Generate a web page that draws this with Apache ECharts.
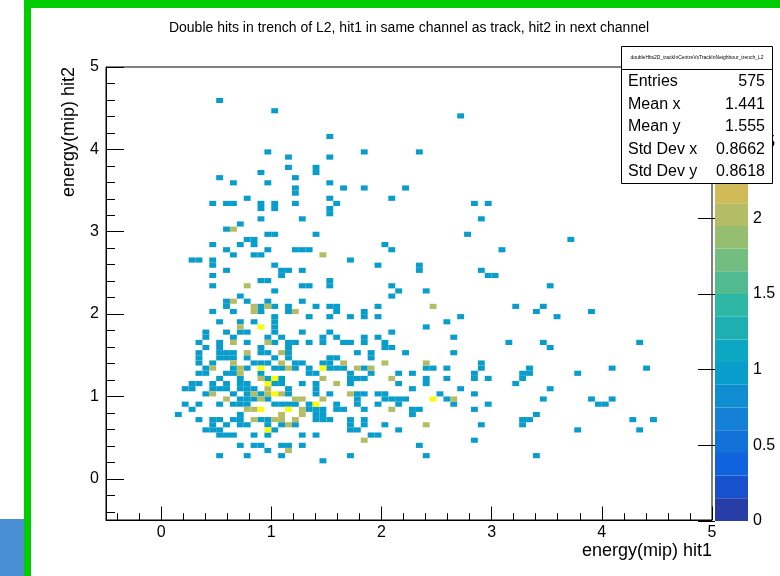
<!DOCTYPE html>
<html>
<head>
<meta charset="utf-8">
<script src="https://cdn.jsdelivr.net/npm/echarts@6/dist/echarts.min.js"></script>
<style>
html, body { margin: 0; padding: 0; background: #fff; }
#chart { width: 780px; height: 576px; }
</style>
</head>
<body>
<div id="chart"></div>
<script>
// TH2 binning: 1/16 mip per bin, both axes start at -0.5
const binWidth = 1 / 16
const binLow = -0.5

// [hit2 bin, [hit1 bins]] for cells with 1, 2 and 3 entries
const ones = [
  [81, [16]], [79, [24]], [78, [51]], [74, [32]],
  [71, [23, 37, 45]], [70, [26, 32]], [68, [26, 30]], [67, [22, 30]],
  [66, [16, 27]], [65, [18, 23, 32]], [64, [27, 34, 37, 43]], [63, [27]],
  [62, [20, 32, 41]], [61, [15, 17, 18, 22, 24, 27, 33, 53, 55]],
  [60, [22, 24, 32]], [59, [32]], [58, [22, 28, 54]], [57, [19]], [56, [17]],
  [55, [23, 24, 30, 52]], [54, [20, 21, 67]], [53, [15, 19, 21, 40]],
  [52, [17, 23, 27, 28, 29, 41, 57]], [51, [18, 21, 22]], [50, [12, 13, 15, 35]],
  [49, [15, 24, 39, 45]], [48, [17, 25, 26, 28, 45, 54]], [47, [15, 25, 55, 56]],
  [46, [22, 23, 32]], [45, [15, 28, 29, 32, 41, 64]], [44, [24, 42, 46]],
  [43, [19, 41]], [42, [17, 20, 23, 28]],
  [41, [17, 22, 24, 26, 30, 32, 33, 39, 59, 63]],
  [40, [15, 18, 22, 26, 33, 37, 62, 70]],
  [39, [24, 29, 32, 35, 37, 39, 51, 65]], [38, [16, 19, 21, 24, 49]], [37, [24, 46]],
  [36, [14, 17, 19, 20, 24, 28, 32, 41]],
  [35, [14, 18, 23, 25, 31, 33, 37, 39, 50]],
  [34, [13, 16, 20, 24, 26, 27, 29, 31, 34, 35, 37, 40, 58, 63, 77]],
  [33, [14, 16, 22, 26, 40, 41, 64]],
  [32, [13, 16, 17, 18, 22, 23, 26, 36, 38, 43, 50]],
  [31, [13, 16, 17, 18, 20, 24, 26, 32, 33, 38]],
  [30, [13, 15, 21, 22, 23, 27, 28, 31, 32, 54]],
  [29, [14, 18, 20, 24, 25, 27, 29, 32, 33, 34, 37, 46, 47, 49, 54, 61, 73, 78]],
  [28, [13, 14, 17, 18, 22, 29, 30, 35, 38, 42, 44, 53, 60, 61, 68]],
  [27, [16, 19, 23, 25, 35, 36, 37, 46, 49, 53, 55, 60]],
  [26, [12, 13, 15, 17, 19, 20, 24, 25, 28, 30, 35, 42, 46, 59]],
  [25, [11, 12, 15, 16, 17, 19, 20, 21, 26, 30, 44, 51, 64]],
  [24, [14, 18, 20, 22, 26, 30, 32, 36, 37, 39, 40, 48, 53]],
  [23, [19, 20, 21, 23, 36, 40, 41, 42, 43, 49, 63, 70, 73]],
  [22, [11, 13, 16, 18, 19, 20, 24, 25, 26, 27, 29, 33, 36, 39, 42, 50, 55, 71, 72]],
  [21, [12, 29, 30, 31, 33, 34, 37, 44, 45, 53]],
  [20, [10, 19, 30, 31, 44, 62]],
  [19, [13, 15, 16, 18, 19, 22, 23, 30, 31, 32, 35, 37, 60, 61, 76, 79]],
  [18, [15, 17, 19, 20, 23, 25, 27, 35, 37, 40, 54, 60]],
  [17, [14, 15, 16, 24, 35, 36, 42, 68, 77]],
  [16, [16, 17, 18, 21, 23, 28, 30, 38, 39]],
  [15, [53]], [14, [19, 21, 22, 25, 26, 28, 45]], [13, [23]],
  [12, [16, 20, 25, 35, 46, 62]], [11, [31]]
]
const twos = [
  [56, [18]], [51, [31]], [45, [20]], [42, [18]], [41, [21, 23, 47]], [40, [21, 27]],
  [37, [19]], [34, [18, 23]], [32, [20, 25]], [30, [18, 25, 34, 40, 46]],
  [29, [15, 19, 26, 36, 38]], [28, [19]], [27, [22, 31, 41]], [26, [33]], [25, [23]],
  [24, [15, 21, 23, 25, 35]], [23, [17, 22, 27, 28, 31, 50]], [21, [20, 21, 28, 41]],
  [20, [25, 28]], [19, [21, 24, 25, 27]], [18, [26, 46]], [15, [37]], [13, [26]]
]
const threes = [
  [37, [22]], [29, [22, 31]], [27, [24]], [26, [23]], [24, [24]], [23, [47]],
  [22, [30]], [21, [22, 26]], [17, [23]]
]

const xMajorTicks = [0, 1, 2, 3, 4, 5]
const yMajorTicks = [0, 1, 2, 3, 4, 5]
const zMax = 3
const nLevels = 20

const statsName = 'doubleHits2D_trackInCentreVsTrackInNeighbour_trench_L2'
const statsLabels = ['Entries', 'Mean x', 'Mean y', 'Std Dev x', 'Std Dev y']
const statsValues = ['575', '1.441', '1.555', '0.8662', '0.8618']

// ROOT kBird palette
const birdStops = [0, 0.125, 0.25, 0.375, 0.5, 0.625, 0.75, 0.875, 1]
const birdR = [0.2082, 0.0592, 0.0780, 0.0232, 0.1802, 0.5301, 0.8186, 0.9956, 0.9764]
const birdG = [0.1664, 0.3599, 0.5041, 0.6419, 0.7178, 0.7492, 0.7328, 0.7862, 0.9832]
const birdB = [0.5293, 0.8684, 0.8385, 0.7914, 0.6425, 0.4662, 0.3499, 0.1968, 0.0539]

const birdColor = (p) => {
  let k = 0
  while (k < birdStops.length - 2 && p > birdStops[k + 1]) k++
  const t = (p - birdStops[k]) / (birdStops[k + 1] - birdStops[k])
  const ch = (a) => Math.round(255 * (a[k] + t * (a[k + 1] - a[k])))
  return 'rgb(' + ch(birdR) + ',' + ch(birdG) + ',' + ch(birdB) + ')'
}
const levelColor = (level) => birdColor(Math.floor((level + 0.99) * 255 / nLevels) / 254)
const valueLevel = (v) => Math.min(nLevels - 1, Math.floor(v / zMax * nLevels + 1e-9))

const cells = []
const addCells = (rows, n) => {
  rows.forEach(([yb, xbs]) => {
    xbs.forEach((xb) => cells.push([binLow + xb * binWidth, binLow + yb * binWidth, n]))
  })
}
addCells(ones, 1)
addCells(twos, 2)
addCells(threes, 3)

const bands = []
for (let k = 0; k < nLevels; k++) bands.push([k * zMax / nLevels, (k + 1) * zMax / nLevels, k])

const minorTicks = (lo, hi, majors) => {
  const out = []
  for (let v = Math.round(lo * 5); v <= Math.round(hi * 5); v++) {
    if (!majors.includes(v / 5)) out.push(v / 5)
  }
  return out
}

const font = 'Liberation Sans, Arial, sans-serif'
const frame = { left: 106, top: 67, width: 606, height: 453 }

const renderCell = (params, api) => {
  const x = api.value(0)
  const y = api.value(1)
  const p0 = api.coord([x, y + binWidth])
  const p1 = api.coord([x + binWidth, y])
  return {
    type: 'rect',
    shape: { x: p0[0], y: p0[1], width: p1[0] - p0[0], height: p1[1] - p0[1] },
    style: { fill: levelColor(valueLevel(api.value(2))) }
  }
}

const renderBand = (params, api) => {
  const p0 = api.coord([0, api.value(1)])
  const p1 = api.coord([1, api.value(0)])
  return {
    type: 'rect',
    shape: { x: p0[0], y: p0[1], width: p1[0] - p0[0], height: p1[1] - p0[1] },
    style: { fill: levelColor(api.value(2)) }
  }
}

const mainAxis = (pos, majors, tickLen) => ({
  type: 'value', gridIndex: 0, position: pos, min: -0.5, max: 5,
  axisLine: { show: true, onZero: false, lineStyle: { color: '#000', width: 1 } },
  axisTick: { show: true, inside: true, length: tickLen, customValues: majors, lineStyle: { color: '#000' } },
  axisLabel: {
    show: true, customValues: majors, color: '#000', fontFamily: font, fontSize: 16,
    margin: pos === 'bottom' ? 5 : 7
  },
  splitLine: { show: false }
})
const minorAxis = (pos, majors, tickLen) => ({
  type: 'value', gridIndex: 0, position: pos, min: -0.5, max: 5,
  axisLine: { show: false, onZero: false },
  axisTick: { show: true, inside: true, length: tickLen, customValues: minorTicks(-0.5, 5, majors), lineStyle: { color: '#000' } },
  axisLabel: { show: false },
  splitLine: { show: false }
})

const graphics = [
  { type: 'rect', shape: { x: 24, y: 0, width: 756, height: 8 }, style: { fill: '#00cc00' } },
  { type: 'rect', shape: { x: 24, y: 0, width: 7, height: 576 }, style: { fill: '#00cc00' } },
  { type: 'rect', shape: { x: 0, y: 519, width: 24, height: 57 }, style: { fill: '#4a8ed6' } },
  {
    type: 'text', x: 409, y: 28,
    style: { text: 'Double hits in trench of L2, hit1 in same channel as track, hit2 in next channel', font: '14px ' + font, fill: '#000', textAlign: 'center', textVerticalAlign: 'middle' }
  },
  {
    type: 'text', x: 712, y: 551,
    style: { text: 'energy(mip) hit1', font: '18px ' + font, fill: '#000', textAlign: 'right', textVerticalAlign: 'middle' }
  },
  {
    type: 'text', x: 69, y: 67, rotation: Math.PI / 2,
    style: { text: 'energy(mip) hit2', font: '18px ' + font, fill: '#000', textAlign: 'right', textVerticalAlign: 'middle' }
  },
  { type: 'rect', shape: { x: 621.5, y: 46.5, width: 151, height: 137 }, style: { fill: '#fff', stroke: '#000', lineWidth: 1 } },
  { type: 'line', shape: { x1: 621.5, y1: 69.5, x2: 772.5, y2: 69.5 }, style: { stroke: '#000', lineWidth: 1 } },
  {
    type: 'text', x: 697, y: 58,
    style: { text: statsName, font: '5px ' + font, fill: '#000', textAlign: 'center', textVerticalAlign: 'middle' }
  }
]
statsLabels.forEach((label, i) => {
  const y = 82 + i * 22.5
  graphics.push({ type: 'text', x: 628, y: y, style: { text: label, font: '16px ' + font, fill: '#000', textAlign: 'left', textVerticalAlign: 'middle' } })
  graphics.push({ type: 'text', x: 765, y: y, style: { text: statsValues[i], font: '16px ' + font, fill: '#000', textAlign: 'right', textVerticalAlign: 'middle' } })
})
graphics.forEach((g) => { g.z = 100; g.silent = true })

const chart = echarts.init(document.getElementById('chart'))
chart.setOption({
  animation: false,
  backgroundColor: '#fff',
  grid: [
    Object.assign({ show: true, borderColor: '#000', borderWidth: 1, backgroundColor: 'transparent' }, frame),
    { left: 715, top: 67, width: 33, height: 454, show: false }
  ],
  xAxis: [
    mainAxis('bottom', xMajorTicks, 13.5),
    minorAxis('bottom', xMajorTicks, 6.8),
    { type: 'value', gridIndex: 1, min: 0, max: 1, show: false }
  ],
  yAxis: [
    mainAxis('left', yMajorTicks, 18),
    minorAxis('left', yMajorTicks, 9),
    {
      type: 'value', gridIndex: 1, position: 'right', min: 0, max: zMax, interval: 0.5,
      axisLine: { show: false },
      axisTick: { show: true, inside: true, length: 17, lineStyle: { color: '#000' } },
      axisLabel: { color: '#000', fontFamily: font, fontSize: 16, margin: 5 },
      splitLine: { show: false }
    }
  ],
  series: [
    {
      type: 'custom', xAxisIndex: 0, yAxisIndex: 0, clip: true,
      renderItem: renderCell, data: cells, encode: { x: 0, y: 1 }
    },
    {
      type: 'custom', xAxisIndex: 2, yAxisIndex: 2, z: 1,
      renderItem: renderBand, data: bands, encode: { y: [0, 1] }
    }
  ],
  graphic: graphics
})
</script>
</body>
</html>
